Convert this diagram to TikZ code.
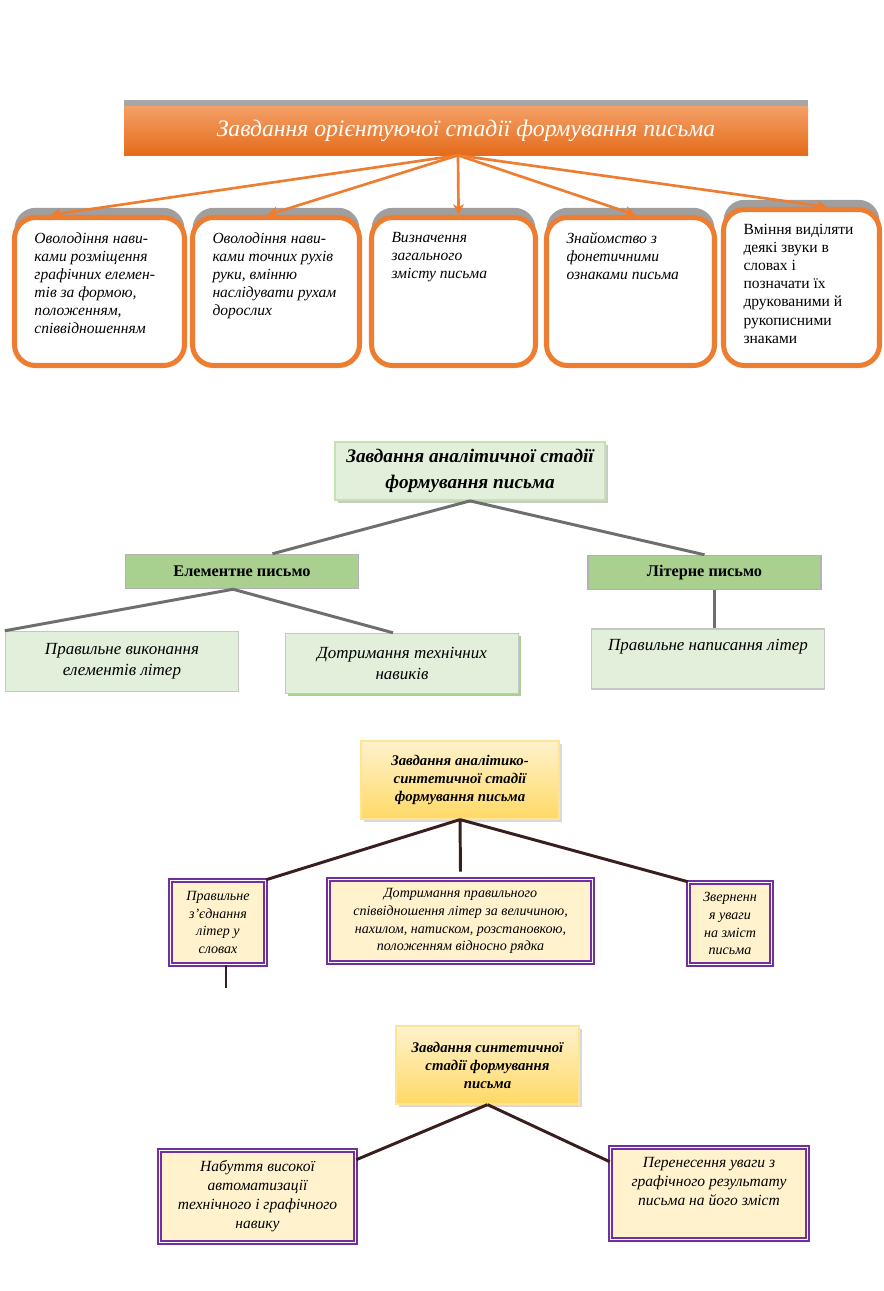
\documentclass[tikz,border=0pt]{standalone}
\usepackage{fontspec}
\setmainfont{Liberation Serif}
\usepackage{xcolor}
\usepackage{tikz}
\usetikzlibrary{calc,shadows,arrows.meta}
\definecolor{OrangeMain}{RGB}{237,125,49}
\definecolor{OrangeLight}{RGB}{244,160,104}
\definecolor{OrangeDark}{RGB}{228,108,26}
\definecolor{GreenPale}{RGB}{226,239,218}
\definecolor{GreenMid}{RGB}{169,208,142}
\definecolor{GreenEdge}{RGB}{197,224,180}
\definecolor{YellowPale}{RGB}{255,242,204}
\definecolor{YellowDeep}{RGB}{255,217,102}
\definecolor{PurpleEdge}{RGB}{112,48,160}
\definecolor{BrownLine}{RGB}{58,30,30}
\newdimen\pxu \pxu=0.2376mm
\newcommand{\boxtext}[3]{\parbox[c][#1\pxu][t]{#2\pxu}{\raggedright #3}}

\begin{document}
\begin{tikzpicture}[
        x=0.2376mm, y=-0.2376mm,
        % --- ORIENTUVALNA STADIIA ---
        title_bar/.style={
            rectangle,
            top color=OrangeLight, bottom color=OrangeDark,
            text=white,
            minimum width=684*\pxu, minimum height=49*\pxu,
            font=\itshape\fontsize{16}{19}\selectfont,
            drop shadow={shadow xshift=0mm, shadow yshift=1.4mm, fill=gray!70, opacity=1}
        },
        top_box/.style={
            rectangle, rounded corners=5mm,
            draw=OrangeMain, line width=3.4pt, fill=white,
            inner xsep=20*\pxu, inner ysep=15*\pxu,
            font=\itshape\fontsize{10.5}{12.2}\selectfont,
            drop shadow={shadow xshift=0mm, shadow yshift=2.3mm, fill=gray!75, opacity=1}
        },
        orange_arrow/.style={
            draw=OrangeMain, line width=1.8pt,
            -{Stealth[length=2.6mm, width=2.6mm]}
        },
        % --- ANALITYCHNA STADIIA ---
        green_title/.style={
            rectangle, draw=GreenEdge, line width=1.2pt, fill=GreenPale,
            minimum width=270*\pxu, minimum height=58*\pxu,
            align=center,
            font=\bfseries\itshape\fontsize{13}{17.5}\selectfont,
            drop shadow={shadow xshift=0.6mm, shadow yshift=-0.6mm, fill=gray!60, opacity=0.7}
        },
        mid_box/.style={
            rectangle, draw=gray!60, line width=1pt, fill=GreenMid,
            minimum width=233*\pxu, minimum height=34*\pxu,
            font=\bfseries\fontsize{11}{13}\selectfont
        },
        leaf_box/.style={
            rectangle, draw=gray!45, line width=1pt, fill=GreenPale,
            minimum width=233*\pxu, minimum height=60*\pxu,
            align=center,
            font=\itshape\fontsize{11.5}{14}\selectfont
        },
        green_line/.style={draw=black!57, line width=2pt},
        % --- ANALITYKO-SYNTETYCHNA I SYNTETYCHNA ---
        yellow_title/.style={
            rectangle, draw=YellowDeep!70, line width=0.8pt,
            top color=YellowPale, bottom color=YellowDeep,
            align=center,
            font=\bfseries\itshape\fontsize{10}{12.2}\selectfont,
            drop shadow={shadow xshift=0.6mm, shadow yshift=-0.6mm, fill=gray!50, opacity=0.6}
        },
        purple_box/.style={
            rectangle, draw=PurpleEdge, line width=1.1pt,
            double=white, double distance=1pt,
            fill=YellowPale, align=center, inner sep=2pt,
            font=\itshape\fontsize{9.5}{12.1}\selectfont
        },
        brown_line/.style={draw=BrownLine, line width=2pt}
    ]
    \useasboundingbox (0,0) rectangle (884,1291);

        % --- ORIENTUVALNA: ZAHOLOVOK ---
        \node[title_bar] (ttl) at (466,130.5) {Завдання орієнтуючої стадії формування письма};

        % --- ORIENTUVALNA: P'IAT ZAVDAN ---
        \node[top_box] (tb1) at (99.5,291.5) {\boxtext{118}{130}{Оволодіння нави-\\ками розміщення\\графічних елемен-\\тів за формою,\\положенням,\\співвідношенням}};
        \node[top_box] (tb2) at (276,291.5) {\boxtext{118}{127}{Оволодіння нави-\\ками точних рухів\\руки, вмінню\\наслідувати рухам\\дорослих}};
        \node[top_box] (tb3) at (453.5,291.5) {\boxtext{118}{124}{Визначення\\загального\\змісту письма}};
        \node[top_box] (tb4) at (630.5,291.5) {\boxtext{118}{128}{Знайомство з\\фонетичними\\ознаками письма}};
        \node[top_box, font=\fontsize{10.5}{12.2}\selectfont] (tb5) at (801.5,287.5) {\boxtext{126}{116}{Вміння виділяти\\деякі звуки в\\словах і\\позначати їх\\друкованими й\\рукописними\\знаками}};

        \coordinate (hub) at ($(ttl.south)+(-8,0)$);
        \foreach \b/\f in {tb1/0.22, tb2/0.45, tb3/0.53, tb4/0.53, tb5/0.66} {
            \draw[orange_arrow] (hub) -- ($(\b.north west)!\f!(\b.north east)$);
        }

        % --- ANALITYCHNA STADIIA ---
        \node[green_title] (gt) at (470,471) {Завдання аналітичної стадії\\формування письма};
        \node[mid_box] (ge) at (242,571.5) {Елементне письмо};
        \node[mid_box] (gl) at (704.5,572.5) {Літерне письмо};
        \node[leaf_box] (l1) at (122,661.5) {Правильне виконання\\елементів літер};
        \node[leaf_box, drop shadow={shadow xshift=0.5mm, shadow yshift=-0.5mm, fill=GreenMid, opacity=1}] (l2) at (402,663.5) {Дотримання технічних\\навиків};
        \node[leaf_box] (l3) at (708,659) {\parbox[c][40\pxu][t]{220\pxu}{\centering Правильне написання літер}};

        \draw[green_line] (gt.south) -- ($(ge.north west)!0.63!(ge.north east)$);
        \draw[green_line] (gt.south) -- (gl.north);
        \coordinate (gefork) at ($(ge.south)+(-9,0)$);
        \draw[green_line] (gefork) -- (l1.north west);
        \draw[green_line] (gefork) -- ($(l2.north)+(-9,0)$);
        \coordinate (glfork) at ($(gl.south)+(10,0)$);
        \draw[green_line] (glfork) -- (glfork |- l3.north);

        % --- ANALITYKO-SYNTETYCHNA STADIIA ---
        \node[yellow_title, minimum width=198*\pxu, minimum height=78*\pxu] (y1) at (460,780) {Завдання аналітико-\\синтетичної стадії\\формування письма};
        \node[purple_box, minimum width=95*\pxu, minimum height=84*\pxu] (pb1) at (218,922.5) {Правильне\\з’єднання\\літер у\\словах};
        \node[purple_box, minimum width=264*\pxu, minimum height=83*\pxu] (pb2) at (460.5,921) {Дотримання правильного\\співвідношення літер за величиною,\\нахилом, натиском, розстановкою,\\положенням відносно рядка};
        \node[purple_box, minimum width=83*\pxu, minimum height=82*\pxu] (pb3) at (730,923.5) {Зверненн\\я уваги\\на зміст\\письма};

        \draw[brown_line] (y1.south) -- (pb1.north east);
        \draw[brown_line] (y1.south) -- ($(pb2.north)+(0,-7)$);
        \draw[brown_line] (y1.south) -- (pb3.north west);
        \coordinate (tail) at (226,988);
        \draw[brown_line] (pb1.south -| tail) -- (tail);

        % --- SYNTETYCHNA STADIIA ---
        \node[yellow_title, minimum width=183*\pxu, minimum height=78*\pxu] (y2) at (487.5,1065) {Завдання синтетичної\\стадії формування\\письма};
        \node[purple_box, font=\itshape\fontsize{10.5}{12.8}\selectfont, minimum width=196*\pxu, minimum height=92*\pxu] (c1) at (257.5,1196.5) {Набуття високої\\автоматизації\\технічного і графічного\\навику};
        \node[purple_box, font=\itshape\fontsize{10.5}{12.8}\selectfont, minimum width=197*\pxu, minimum height=92*\pxu] (c2) at (709,1193.5) {\parbox[c][72\pxu][t]{180\pxu}{\centering Перенесення уваги з\\графічного результату\\письма на його зміст}};

        \draw[brown_line] (y2.south) -- ($(c1.north east)+(0,10)$);
        \draw[brown_line] (y2.south) -- ($(c2.north west)+(0,15)$);

    \end{tikzpicture}
\end{document}
